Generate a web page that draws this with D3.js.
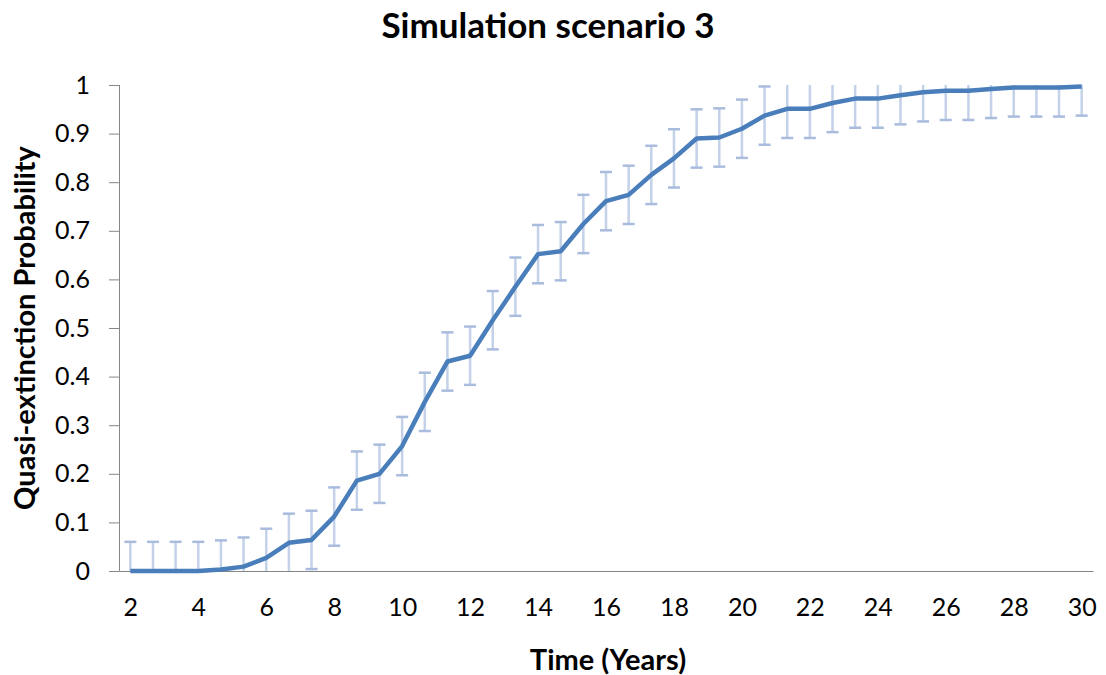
<!DOCTYPE html>
<html>
<head>
<meta charset="utf-8">
<script src="https://cdn.jsdelivr.net/npm/d3@7"></script>
<style>
  body { margin: 0; background: #fff; }
  text { font-family: Lato, "Open Sans", sans-serif; fill: #000; }
</style>
</head>
<body>
<div id="chart"></div>
<script>
// time steps (years), one every 8 months
var years = [2, 2.667, 3.333, 4, 4.667, 5.333, 6, 6.667, 7.333, 8, 8.667, 9.333,
             10, 10.667, 11.333, 12, 12.667, 13.333, 14, 14.667, 15.333, 16, 16.667, 17.333,
             18, 18.667, 19.333, 20, 20.667, 21.333, 22, 22.667, 23.333, 24, 24.667, 25.333,
             26, 26.667, 27.333, 28, 28.667, 29.333, 30];

var probability = [0, 0, 0, 0, 0.003, 0.009, 0.027, 0.058, 0.064, 0.112, 0.186, 0.200,
                   0.257, 0.348, 0.431, 0.443, 0.516, 0.585, 0.652, 0.658, 0.714, 0.761, 0.774, 0.815,
                   0.849, 0.890, 0.892, 0.910, 0.937, 0.951, 0.951, 0.963, 0.972, 0.972, 0.979, 0.985,
                   0.988, 0.988, 0.992, 0.995, 0.995, 0.995, 0.997];

var errors = [0.06, 0.06, 0.06, 0.06, 0.06, 0.06, 0.06, 0.06, 0.06, 0.06, 0.06, 0.06,
              0.06, 0.06, 0.06, 0.06, 0.06, 0.06, 0.06, 0.06, 0.06, 0.06, 0.06, 0.06,
              0.06, 0.06, 0.06, 0.06, 0.06, 0.06, 0.06, 0.06, 0.06, 0.06, 0.06, 0.06,
              0.06, 0.06, 0.06, 0.06, 0.06, 0.06, 0.06];

var xTicks = [2, 4, 6, 8, 10, 12, 14, 16, 18, 20, 22, 24, 26, 28, 30];
var yTicks = [0, 0.1, 0.2, 0.3, 0.4, 0.5, 0.6, 0.7, 0.8, 0.9, 1];

var data = years.map((t, i) => ({t: t, p: probability[i], e: errors[i]}));

var width = 1106, height = 675;
var margin = {top: 85, right: 13, bottom: 104, left: 119};

var svg = d3.select("#chart")
            .append("svg")
            .attr("width", width)
            .attr("height", height);

// category axis: each point sits in the middle of its slot
var x = d3.scaleLinear()
          .domain([2 - 1/3, 30 + 1/3])
          .range([margin.left, width - margin.right]);

var y = d3.scaleLinear()
          .domain([0, 1])
          .range([height - margin.bottom, margin.top]);

// y axis
var yAxis = svg.append("g")
               .attr("transform", "translate(" + margin.left + ",0)")
               .call(d3.axisLeft(y).tickValues(yTicks).tickSize(10).tickPadding(19)
                       .tickFormat(d3.format("")));
yAxis.select(".domain").attr("stroke", "#868686").attr("d", "M0.5," + y(1) + "V" + (y(0) + 0.5));
yAxis.selectAll(".tick line").attr("stroke", "#868686");
yAxis.selectAll(".tick text").style("font-size", "25px");

// x axis (no tick marks)
var xAxis = svg.append("g")
               .attr("transform", "translate(0," + y(0) + ")")
               .call(d3.axisBottom(x).tickValues(xTicks).tickSize(0).tickPadding(27));
xAxis.select(".domain").attr("stroke", "#868686");
xAxis.selectAll(".tick text").style("font-size", "25px");

// error bars
var bars = svg.append("g");
var clip = (v) => Math.max(0, Math.min(1, v));

bars.selectAll("line.stem")
    .data(data)
    .enter()
    .append("line")
    .attr("class", "stem")
    .attr("x1", (d) => x(d.t))
    .attr("x2", (d) => x(d.t))
    .attr("y1", (d) => y(clip(d.p + d.e)))
    .attr("y2", (d) => y(clip(d.p - d.e)))
    .attr("stroke", "#c3d1e9")
    .attr("stroke-width", 2.5);

// caps only where the bar end is inside the plot
var caps = [];
data.forEach((d) => {
    if (d.p + d.e <= 1) caps.push({t: d.t, v: d.p + d.e});
    if (d.p - d.e >= 0) caps.push({t: d.t, v: d.p - d.e});
});

bars.selectAll("line.cap")
    .data(caps)
    .enter()
    .append("line")
    .attr("class", "cap")
    .attr("x1", (d) => x(d.t) - 6)
    .attr("x2", (d) => x(d.t) + 6)
    .attr("y1", (d) => y(d.v))
    .attr("y2", (d) => y(d.v))
    .attr("stroke", "#a9bcdd")
    .attr("stroke-width", 2.5);

// mean line
var line = d3.line()
             .x((d) => x(d.t))
             .y((d) => y(d.p));

svg.append("path")
   .datum(data)
   .attr("d", line)
   .attr("fill", "none")
   .attr("stroke", "#4a7ebb")
   .attr("stroke-width", 4.5)
   .attr("stroke-linejoin", "round");

// titles
svg.append("text")
   .attr("x", 548)
   .attr("y", 38)
   .attr("text-anchor", "middle")
   .style("font-size", "35px")
   .style("font-weight", "bold")
   .text("Simulation scenario 3");

svg.append("text")
   .attr("x", 608)
   .attr("y", 670)
   .attr("text-anchor", "middle")
   .style("font-size", "29px")
   .style("font-weight", "bold")
   .text("Time (Years)");

svg.append("text")
   .attr("transform", "translate(35,328) rotate(-90)")
   .attr("text-anchor", "middle")
   .style("font-size", "29px")
   .style("font-weight", "bold")
   .text("Quasi-extinction Probability");
</script>
</body>
</html>
